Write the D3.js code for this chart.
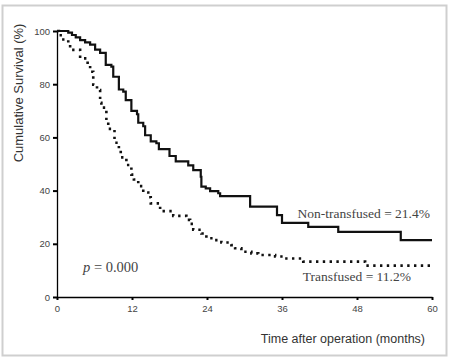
<!DOCTYPE html>
<html lang="en">
<head>
	<title>Survival after operation</title>
	<script src="https://d3js.org/d3.v7.min.js" charset="utf-8"></script>
	<style>
		body { margin: 0; background: #fff; }
		.tick text { font-family: Arial, "Liberation Sans", sans-serif; font-size: 9.5px; fill: #444; }
	</style>
</head>
<body>
<script>
	// Kaplan-Meier step points: time (months) of each drop and survival (%) after it
	var nonTimes = [0, 1.8, 2.4, 3.0, 3.7, 4.5, 5.3, 6.1, 6.9, 7.8, 8.7, 9.0, 9.9, 10.6, 11.0, 11.9, 12.8, 13.0, 13.8, 14.1, 15.0, 15.9, 16.3, 18.0, 19.0, 21.0, 21.8, 23.0, 23.1, 23.8, 24.5, 25.8, 26.1, 30.9, 35.2, 36.0, 40.2, 45.0, 55.0, 60];
	var nonSurv  = [100, 99.4, 98.5, 97.6, 96.6, 95.7, 94.9, 93.0, 91.8, 87.3, 86.6, 82.8, 78.0, 77.2, 74.0, 70.0, 68.7, 65.5, 64.2, 60.8, 58.5, 57.8, 55.6, 53.0, 51.0, 49.5, 47.7, 45.2, 41.5, 40.8, 39.8, 39.0, 37.9, 34.0, 30.8, 27.9, 26.4, 24.5, 21.4, 21.4];

	var trTimes = [0, 0.3, 0.8, 1.8, 2.1, 3.7, 4.9, 5.3, 5.8, 6.4, 6.9, 7.1, 7.9, 8.2, 9.2, 9.9, 10.2, 11.1, 11.9, 12.3, 13.0, 13.8, 14.6, 15.0, 16.5, 18.6, 20.7, 21.3, 21.8, 23.1, 23.9, 25.0, 26.3, 27.9, 28.5, 29.5, 31.1, 32.2, 34.9, 36.2, 39.4, 49.3, 60];
	var trSurv  = [100, 98.4, 96.8, 95.3, 92.9, 89.7, 87.2, 84.7, 79.8, 77.8, 73.0, 71.2, 66.0, 63.2, 58.0, 55.0, 52.5, 49.6, 46.0, 44.2, 41.7, 39.3, 37.5, 35.2, 32.3, 30.5, 29.0, 27.5, 25.3, 23.9, 22.1, 21.4, 20.5, 19.5, 18.3, 17.0, 16.4, 15.8, 15.2, 14.5, 13.3, 11.8, 11.8];

	var xTicks = [0, 12, 24, 36, 48, 60];
	var yTicks = [0, 20, 40, 60, 80, 100];

	var w = 451, h = 360;

	var svg = d3.select("body").append("svg")
		.attr("width", w)
		.attr("height", h);

	// light frame round the figure
	svg.append("rect")
		.attr("x", 2.5).attr("y", 5.5)
		.attr("width", 444).attr("height", 350)
		.attr("fill", "none")
		.attr("stroke", "#cfcfcf")
		.attr("stroke-width", 2);

	var xScale = d3.scaleLinear().domain([0, 60]).range([57, 432]);
	var yScale = d3.scaleLinear().domain([0, 100]).range([297, 31]);

	// axes
	svg.append("g")
		.attr("transform", "translate(0,297)")
		.call(d3.axisBottom(xScale).tickValues(xTicks).tickSize(3).tickSizeOuter(0).tickPadding(5))
		.call(function(g) {
			g.select(".domain").attr("stroke-width", 1.3);
			g.selectAll(".tick line").attr("stroke-width", 2);
		});

	svg.append("g")
		.attr("transform", "translate(57,0)")
		.call(d3.axisLeft(yScale).tickValues(yTicks).tickSize(4).tickSizeOuter(0).tickPadding(3))
		.call(function(g) {
			g.select(".domain").attr("stroke-width", 1.3);
			g.selectAll(".tick line").attr("stroke-width", 2);
		});

	// survival curves
	var line = d3.line()
		.x(function(d) { return xScale(d[0]); })
		.y(function(d) { return yScale(d[1]); })
		.curve(d3.curveStepAfter);

	svg.append("path")
		.datum(d3.zip(nonTimes, nonSurv))
		.attr("d", line)
		.attr("fill", "none")
		.attr("stroke", "#111")
		.attr("stroke-width", 2.2);

	svg.append("path")
		.datum(d3.zip(trTimes, trSurv))
		.attr("d", line)
		.attr("fill", "none")
		.attr("stroke", "#111")
		.attr("stroke-width", 2.6)
		.attr("stroke-dasharray", "2.4,4.4");

	// axis titles
	svg.append("text")
		.attr("transform", "translate(23,93) rotate(-90)")
		.attr("text-anchor", "middle")
		.attr("font-family", "Arial, 'Liberation Sans', sans-serif")
		.attr("font-size", 13)
		.attr("fill", "#333")
		.text("Cumulative Survival (%)");

	svg.append("text")
		.attr("x", 425).attr("y", 343)
		.attr("text-anchor", "end")
		.attr("font-family", "Arial, 'Liberation Sans', sans-serif")
		.attr("font-size", 12.5)
		.attr("fill", "#333")
		.text("Time after operation (months)");

	// annotations
	svg.append("text")
		.attr("x", 430).attr("y", 218)
		.attr("text-anchor", "end")
		.attr("font-family", "'Liberation Serif', 'Times New Roman', serif")
		.attr("font-size", 13.5)
		.attr("fill", "#444")
		.text("Non-transfused = 21.4%");

	svg.append("text")
		.attr("x", 411).attr("y", 281)
		.attr("text-anchor", "end")
		.attr("font-family", "'Liberation Serif', 'Times New Roman', serif")
		.attr("font-size", 13.5)
		.attr("fill", "#444")
		.text("Transfused = 11.2%");

	var pText = svg.append("text")
		.attr("x", 83).attr("y", 272)
		.attr("font-family", "'Liberation Serif', 'Times New Roman', serif")
		.attr("font-size", 14.5)
		.attr("fill", "#444");
	pText.append("tspan").attr("font-style", "italic").text("p");
	pText.append("tspan").text(" = 0.000");
</script>
</body>
</html>
